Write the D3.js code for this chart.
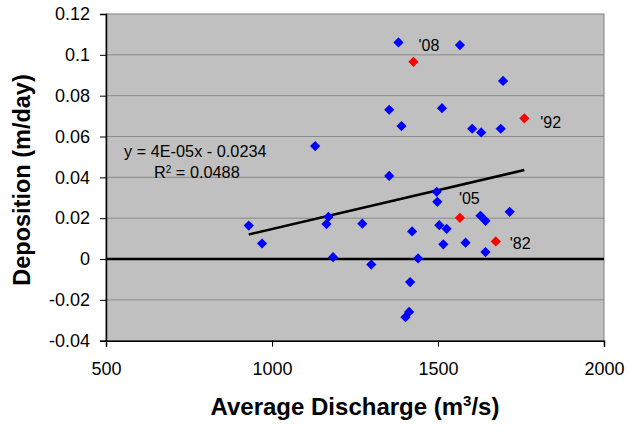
<!DOCTYPE html>
<html>
<head>
<meta charset="utf-8">
<script src="https://cdn.jsdelivr.net/npm/d3@7"></script>
<style>
  body { margin: 0; background: #fff; }
  svg text { font-family: "Liberation Sans", Arial, sans-serif; }
</style>
</head>
<body>
<svg id="chart"></svg>
<script>
// blue points: discharge (m3/s) and deposition (m/day)
var discharge = [930, 970, 1130, 1164, 1170, 1184, 1272, 1299, 1353, 1353, 1381,
  1390, 1402, 1413, 1416, 1422, 1440, 1496, 1498, 1504, 1512, 1516, 1526, 1566,
  1583, 1603, 1628, 1630, 1643, 1643, 1689, 1696, 1716];
var deposition = [0.0164, 0.0076, 0.0553, 0.0171, 0.0206, 0.0009, 0.0173, -0.0027,
  0.0731, 0.0407, 0.1061, 0.0651, -0.0285, -0.0259, -0.0113, 0.0135, 0.0003, 0.0329,
  0.028, 0.0166, 0.0739, 0.0072, 0.0148, 0.1048, 0.008, 0.0638, 0.0212, 0.062,
  0.0187, 0.0034, 0.0638, 0.0872, 0.0231];

// highlighted years
var yearLabels = ["'08", "'92", "'05", "'82"];
var yearDischarge = [1426, 1760, 1566, 1674];
var yearDeposition = [0.0966, 0.0689, 0.0202, 0.0086];

var xTicks = [500, 1000, 1500, 2000];
var yTicks = [-0.04, -0.02, 0, 0.02, 0.04, 0.06, 0.08, 0.1, 0.12];

var trendSlope = 3.8e-5, trendIntercept = -0.0233;
var eqText = "y = 4E-05x - 0.0234";
var r2Text = " = 0.0488";

var width = 629, height = 433;
var margin = {top: 14, right: 25, bottom: 92.3, left: 106};

var svg = d3.select("#chart").attr("width", width).attr("height", height);

var x = d3.scaleLinear().domain([500, 2000]).range([margin.left, width - margin.right]);
var y = d3.scaleLinear().domain([-0.04, 0.12]).range([height - margin.bottom, margin.top]);

// plot background
svg.append("rect")
  .attr("x", x(500)).attr("y", y(0.12))
  .attr("width", x(2000) - x(500)).attr("height", y(-0.04) - y(0.12))
  .attr("fill", "#c0c0c0")
  .attr("stroke", "#808080").attr("stroke-width", 1);

// gridlines
svg.append("g").selectAll("line")
  .data(yTicks.filter(function(d) { return d !== 0 && d !== -0.04 && d !== 0.12; }))
  .enter().append("line")
  .attr("x1", x(500)).attr("x2", x(2000))
  .attr("y1", function(d) { return y(d); }).attr("y2", function(d) { return y(d); })
  .attr("stroke", "#8a8a8a").attr("stroke-width", 1);

// zero line
svg.append("line")
  .attr("x1", x(500)).attr("x2", x(2000))
  .attr("y1", y(0)).attr("y2", y(0))
  .attr("stroke", "#000").attr("stroke-width", 2.5);

// axes
var yAxis = svg.append("g")
  .attr("transform", "translate(" + x(500) + ",0)")
  .call(d3.axisLeft(y).tickValues(yTicks).tickSize(6).tickPadding(10)
    .tickFormat(function(d) { return String(+d.toFixed(2)); }));
var xAxis = svg.append("g")
  .attr("transform", "translate(0," + y(-0.04) + ")")
  .call(d3.axisBottom(x).tickValues(xTicks).tickSize(6).tickPadding(16)
    .tickFormat(d3.format("d")));

[yAxis, xAxis].forEach(function(a) {
  a.select(".domain").attr("stroke", "#000").attr("stroke-width", 1.5);
  a.selectAll(".tick line").attr("stroke", "#000");
  a.selectAll("text").attr("font-size", 18).attr("fill", "#000")
    .attr("font-family", "Liberation Sans, Arial, sans-serif");
});

// trend line over the range of all points
var allX = discharge.concat(yearDischarge);
var xMin = d3.min(allX), xMax = d3.max(allX);
svg.append("line")
  .attr("x1", x(xMin)).attr("y1", y(trendSlope * xMin + trendIntercept))
  .attr("x2", x(xMax)).attr("y2", y(trendSlope * xMax + trendIntercept))
  .attr("stroke", "#000").attr("stroke-width", 2.5);

var diamond = d3.symbol().type(d3.symbolSquare).size(52);

svg.append("g").selectAll("path")
  .data(d3.range(discharge.length))
  .enter().append("path")
  .attr("d", diamond)
  .attr("transform", function(i) { return "translate(" + x(discharge[i]) + "," + y(deposition[i]) + ") rotate(45)"; })
  .attr("fill", "#0000ff");

svg.append("g").selectAll("path")
  .data(d3.range(yearLabels.length))
  .enter().append("path")
  .attr("d", diamond)
  .attr("transform", function(i) { return "translate(" + x(yearDischarge[i]) + "," + y(yearDeposition[i]) + ") rotate(45)"; })
  .attr("fill", "#ff0000");

// year labels, offset from their marker
var labelDx = [5, 16, -1, 14];
var labelDy = [-16, 4, -19, 2];
svg.append("g").selectAll("text")
  .data(d3.range(yearLabels.length))
  .enter().append("text")
  .attr("x", function(i) { return x(yearDischarge[i]) + labelDx[i]; })
  .attr("y", function(i) { return y(yearDeposition[i]) + labelDy[i]; })
  .attr("dy", "0.35em")
  .attr("font-size", 16)
  .text(function(i) { return yearLabels[i]; });

// equation
svg.append("text").attr("x", 124).attr("y", 151).attr("dy", "0.35em")
  .attr("font-size", 16.3).text(eqText);
var r2 = svg.append("text").attr("x", 154).attr("y", 172).attr("dy", "0.35em")
  .attr("font-size", 16.3);
r2.append("tspan").text("R");
r2.append("tspan").attr("font-size", 10).attr("dy", -5).text("2");
r2.append("tspan").attr("dy", 5).text(r2Text);

// axis titles
var xt = svg.append("text")
  .attr("x", 355).attr("y", 415)
  .attr("text-anchor", "middle").attr("font-weight", "bold").attr("font-size", 24);
xt.append("tspan").text("Average Discharge (m");
xt.append("tspan").attr("font-size", 15).attr("dy", -9).text("3");
xt.append("tspan").attr("dy", 9).text("/s)");

svg.append("text")
  .attr("transform", "translate(30,180) rotate(-90)")
  .attr("text-anchor", "middle").attr("font-weight", "bold").attr("font-size", 23.5)
  .text("Deposition (m/day)");
</script>
</body>
</html>
